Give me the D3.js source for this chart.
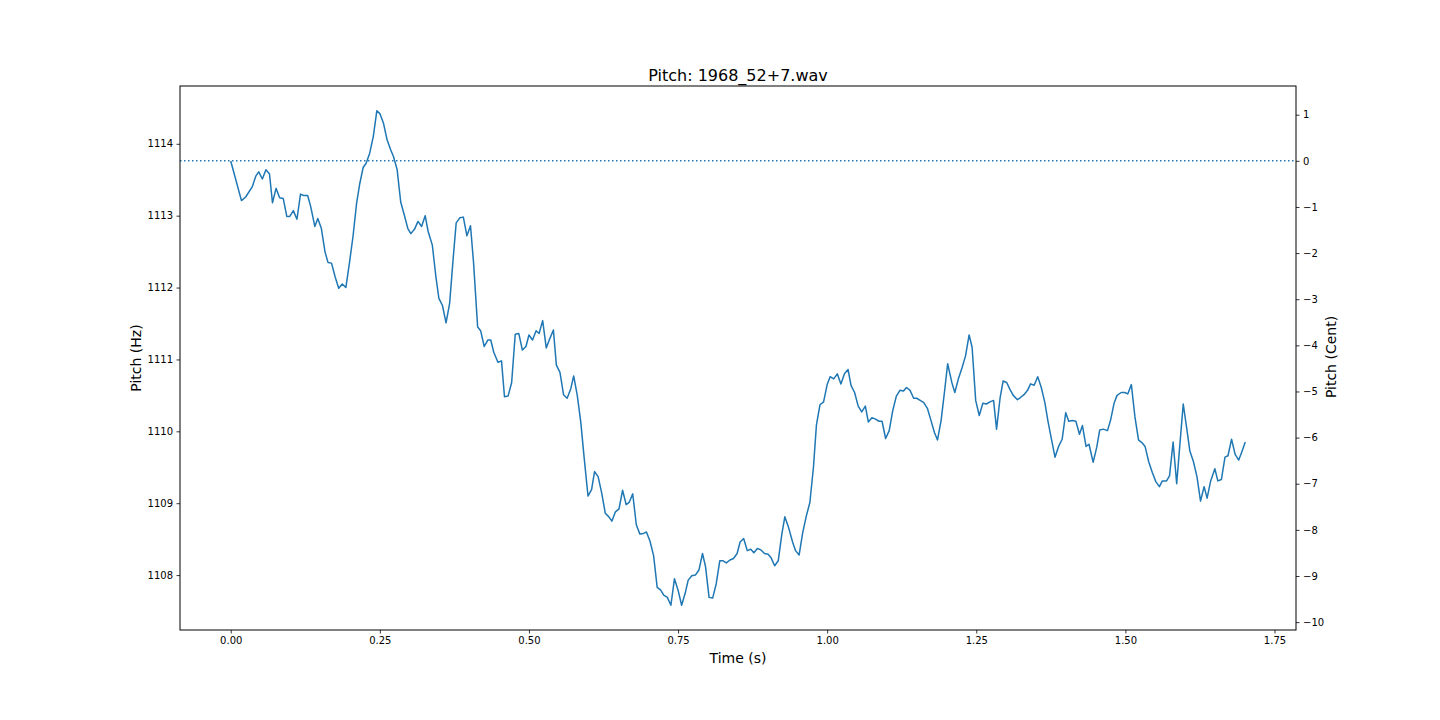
<!DOCTYPE html>
<html>
<head>
<meta charset="utf-8">
<script src="https://cdn.jsdelivr.net/npm/d3@7/dist/d3.min.js"></script>
<style>
  html, body { margin: 0; padding: 0; background: #fff; }
  svg { display: block; font-family: "DejaVu Sans", sans-serif; }
</style>
</head>
<body>
<svg id="chart" width="1440" height="720"></svg>
<script>
// ---- data ----
const title = "Pitch: 1968_52+7.wav";
const xLabel = "Time (s)";
const yLabel = "Pitch (Hz)";
const y2Label = "Pitch (Cent)";
const refHz = 1113.76;

const times = [
0.000,0.018,0.025,0.036,0.042,0.047,0.053,0.059,0.065,0.070,0.076,0.082,0.088,0.094,0.099,0.105,0.111,0.117,0.122,0.129,
0.134,0.141,0.146,0.152,0.158,0.163,0.169,0.175,0.181,0.187,0.193,0.199,0.205,0.211,0.216,0.222,0.227,0.233,0.239,0.245,
0.250,0.256,0.262,0.268,0.273,0.279,0.285,0.291,0.297,0.302,0.308,0.314,0.320,0.326,0.331,0.338,0.344,0.349,0.355,0.361,
0.367,0.373,0.378,0.384,0.390,0.396,0.402,0.407,0.414,0.419,0.425,0.431,0.436,0.441,0.448,0.454,0.459,0.465,0.471,0.477,
0.483,0.489,0.495,0.500,0.506,0.512,0.517,0.523,0.529,0.535,0.541,0.546,0.552,0.558,0.564,0.570,0.575,0.581,0.587,0.592,
0.599,0.605,0.610,0.616,0.622,0.628,0.634,0.639,0.645,0.651,0.657,0.663,0.668,0.674,0.680,0.686,0.692,0.697,0.703,0.709,
0.715,0.721,0.726,0.732,0.738,0.744,0.750,0.756,0.762,0.767,0.773,0.779,0.785,0.791,0.796,0.802,0.808,0.814,0.820,0.825,
0.831,0.837,0.843,0.849,0.854,0.860,0.866,0.872,0.877,0.883,0.889,0.895,0.901,0.906,0.912,0.918,0.924,0.929,0.935,0.942,
0.947,0.953,0.959,0.965,0.971,0.977,0.982,0.988,0.994,1.000,1.005,1.011,1.017,1.023,1.029,1.035,1.040,1.046,1.052,1.058,
1.064,1.069,1.075,1.081,1.087,1.092,1.098,1.104,1.110,1.116,1.122,1.128,1.133,1.139,1.145,1.150,1.156,1.162,1.168,1.173,
1.180,1.185,1.191,1.197,1.202,1.209,1.214,1.220,1.226,1.232,1.238,1.243,1.249,1.255,1.261,1.267,1.273,1.279,1.284,1.290,
1.295,1.301,1.306,1.312,1.319,1.324,1.330,1.336,1.341,1.347,1.353,1.359,1.365,1.370,1.376,1.382,1.388,1.394,1.400,1.405,
1.411,1.417,1.423,1.428,1.434,1.439,1.446,1.452,1.457,1.463,1.470,1.475,1.481,1.486,1.493,1.499,1.504,1.510,1.516,1.522,
1.528,1.533,1.539,1.545,1.551,1.557,1.562,1.569,1.574,1.580,1.586,1.591,1.597,1.603,1.608,1.614,1.620,1.626,1.632,1.637,
1.643,1.650,1.655,1.661,1.667,1.672,1.678,1.684,1.690,1.695,1.701
];

const pitchHz = [
1113.76,1113.21,1113.26,1113.40,1113.55,1113.61,1113.51,1113.64,1113.58,1113.18,1113.38,1113.25,1113.24,1112.99,1112.99,1113.07,1112.95,1113.30,1113.28,1113.28,
1113.13,1112.85,1112.96,1112.82,1112.50,1112.35,1112.34,1112.15,1111.99,1112.05,1112.00,1112.34,1112.71,1113.17,1113.43,1113.67,1113.73,1113.87,1114.10,1114.46,
1114.42,1114.29,1114.06,1113.92,1113.82,1113.64,1113.19,1113.01,1112.82,1112.75,1112.81,1112.92,1112.85,1113.00,1112.78,1112.59,1112.15,1111.85,1111.75,1111.51,
1111.78,1112.41,1112.90,1112.97,1112.98,1112.72,1112.86,1112.36,1111.45,1111.40,1111.18,1111.27,1111.27,1111.10,1110.96,1110.98,1110.48,1110.49,1110.68,1111.35,
1111.36,1111.13,1111.18,1111.34,1111.27,1111.40,1111.36,1111.54,1111.16,1111.29,1111.41,1110.92,1110.82,1110.51,1110.46,1110.59,1110.77,1110.50,1110.12,1109.68,
1109.10,1109.19,1109.44,1109.37,1109.14,1108.86,1108.81,1108.75,1108.88,1108.92,1109.18,1108.98,1109.01,1109.13,1108.70,1108.57,1108.58,1108.60,1108.47,1108.27,
1107.83,1107.79,1107.72,1107.69,1107.58,1107.95,1107.79,1107.58,1107.75,1107.93,1107.99,1108.00,1108.07,1108.30,1108.12,1107.69,1107.68,1107.88,1108.20,1108.20,
1108.17,1108.21,1108.23,1108.30,1108.46,1108.51,1108.34,1108.36,1108.31,1108.37,1108.35,1108.30,1108.29,1108.24,1108.13,1108.20,1108.57,1108.81,1108.67,1108.46,
1108.34,1108.28,1108.59,1108.82,1109.01,1109.50,1110.09,1110.37,1110.41,1110.65,1110.76,1110.73,1110.80,1110.66,1110.80,1110.86,1110.64,1110.54,1110.35,1110.27,
1110.35,1110.13,1110.19,1110.17,1110.14,1110.14,1109.90,1110.01,1110.29,1110.49,1110.57,1110.56,1110.61,1110.57,1110.46,1110.46,1110.43,1110.40,1110.32,1110.18,
1109.98,1109.88,1110.15,1110.57,1110.94,1110.68,1110.54,1110.73,1110.88,1111.05,1111.34,1111.17,1110.43,1110.22,1110.39,1110.38,1110.41,1110.43,1110.03,1110.47,
1110.70,1110.68,1110.59,1110.50,1110.44,1110.47,1110.51,1110.57,1110.66,1110.64,1110.76,1110.61,1110.40,1110.15,1109.89,1109.64,1109.79,1109.89,1110.26,1110.14,
1110.15,1110.14,1109.96,1110.08,1109.79,1109.82,1109.57,1109.78,1110.02,1110.03,1110.01,1110.15,1110.39,1110.50,1110.54,1110.54,1110.52,1110.65,1110.20,1109.88,
1109.84,1109.79,1109.58,1109.43,1109.30,1109.23,1109.31,1109.31,1109.38,1109.85,1109.27,1109.78,1110.38,1110.03,1109.73,1109.58,1109.37,1109.03,1109.23,1109.07,
1109.31,1109.48,1109.31,1109.33,1109.64,1109.66,1109.89,1109.68,1109.60,1109.71,1109.85
];

const xTicks = [0, 0.25, 0.5, 0.75, 1.0, 1.25, 1.5, 1.75];
const yTicks = [1108, 1109, 1110, 1111, 1112, 1113, 1114];
const centTicks = [1, 0, -1, -2, -3, -4, -5, -6, -7, -8, -9, -10];

// ---- layout ----
const W = 1440, H = 720;
const m = { left: 180, right: 1296, top: 86, bottom: 630 };
const color = "#1f77b4";

const points = times.map((t, i) => ({ t, hz: pitchHz[i] }));

// domains with 5% margins (matplotlib default)
const xExt = d3.extent(times), xPad = (xExt[1] - xExt[0]) * 0.05;
const yExt = d3.extent(pitchHz), yPad = (yExt[1] - yExt[0]) * 0.05;

const x = d3.scaleLinear().domain([xExt[0] - xPad, xExt[1] + xPad]).range([m.left, m.right]);
const y = d3.scaleLinear().domain([yExt[0] - yPad, yExt[1] + yPad]).range([m.bottom, m.top]);
const toCent = hz => 1200 * Math.log2(hz / refHz);
const y2 = d3.scaleLinear().domain(y.domain().map(toCent)).range([m.bottom, m.top]);

const svg = d3.select("#chart");
const minus = s => s.replace("-", "\u2212");

// plot line
svg.append("path")
  .datum(points)
  .attr("fill", "none")
  .attr("stroke", color)
  .attr("stroke-width", 1.5)
  .attr("stroke-linejoin", "round")
  .attr("d", d3.line().x(d => x(d.t)).y(d => y(d.hz)));

// reference dotted line (0 cent)
svg.append("line")
  .attr("x1", m.left).attr("x2", m.right)
  .attr("y1", y2(0)).attr("y2", y2(0))
  .attr("stroke", color)
  .attr("stroke-width", 1.5)
  .attr("stroke-dasharray", "1.5,2.5");

// axes
const fmt2 = d3.format(".2f");
const xAxis = svg.append("g")
  .attr("transform", `translate(0,${m.bottom})`)
  .call(d3.axisBottom(x).tickValues(xTicks).tickFormat(d => minus(fmt2(d))).tickSizeOuter(0).tickSize(3.5).tickPadding(3.5));
const yAxis = svg.append("g")
  .attr("transform", `translate(${m.left},0)`)
  .call(d3.axisLeft(y).tickValues(yTicks).tickFormat(d3.format("d")).tickSizeOuter(0).tickSize(3.5).tickPadding(3.5));
const y2Axis = svg.append("g")
  .attr("transform", `translate(${m.right},0)`)
  .call(d3.axisRight(y2).tickValues(centTicks).tickFormat(d => minus(String(d))).tickSizeOuter(0).tickSize(3.5).tickPadding(3.5));

[xAxis, yAxis, y2Axis].forEach(g => {
  g.select(".domain").remove();
  g.selectAll(".tick line").attr("stroke", "#000").attr("stroke-width", 0.8);
  g.selectAll(".tick text").attr("font-size", 10).attr("fill", "#000")
    .attr("font-family", "DejaVu Sans");
});

// frame
svg.append("rect")
  .attr("x", m.left).attr("y", m.top)
  .attr("width", m.right - m.left).attr("height", m.bottom - m.top)
  .attr("fill", "none").attr("stroke", "#000").attr("stroke-width", 1);

// labels
svg.append("text")
  .attr("x", (m.left + m.right) / 2).attr("y", 81)
  .attr("text-anchor", "middle").attr("font-size", 16).attr("fill", "#000")
  .text(title);
svg.append("text")
  .attr("x", (m.left + m.right) / 2).attr("y", 663)
  .attr("text-anchor", "middle").attr("font-size", 14).attr("fill", "#000")
  .text(xLabel);
svg.append("text")
  .attr("transform", `translate(141,${(m.top + m.bottom) / 2}) rotate(-90)`)
  .attr("text-anchor", "middle").attr("font-size", 14).attr("fill", "#000")
  .text(yLabel);
svg.append("text")
  .attr("transform", `translate(1336,${(m.top + m.bottom) / 2 - 1}) rotate(-90)`)
  .attr("text-anchor", "middle").attr("font-size", 14).attr("fill", "#000")
  .text(y2Label);
</script>
</body>
</html>
